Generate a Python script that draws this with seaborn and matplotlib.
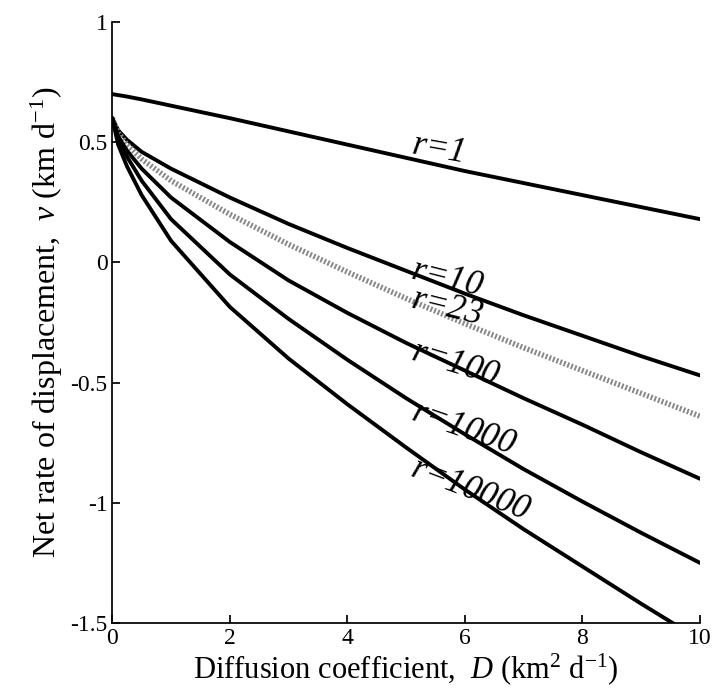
import numpy as np
import pandas as pd
import matplotlib
matplotlib.use("Agg")
import matplotlib.pyplot as plt
import seaborn as sns

sns.set_theme(style="ticks")
plt.rcParams['font.family'] = ['Liberation Serif', 'DejaVu Serif']
plt.rcParams['mathtext.fontset'] = 'custom'
plt.rcParams['mathtext.it'] = 'Liberation Serif:italic'
plt.rcParams['mathtext.rm'] = 'Liberation Serif'

# values
D = [0, 0.1, 0.25, 0.5, 1, 2, 3, 4, 5, 6, 7, 8, 9, 10]
v_r1 = [0.70, 0.696, 0.690, 0.678, 0.652, 0.60, 0.545, 0.49, 0.435, 0.38, 0.33, 0.28, 0.23, 0.18]
v_r10 = [0.60, 0.55, 0.51, 0.46, 0.39, 0.27, 0.16, 0.06, -0.035, -0.13, -0.22, -0.305, -0.39, -0.47]
v_r23 = [0.60, 0.54, 0.49, 0.43, 0.34, 0.20, 0.075, -0.04, -0.15, -0.255, -0.355, -0.45, -0.545, -0.64]
v_r100 = [0.60, 0.525, 0.465, 0.39, 0.27, 0.085, -0.075, -0.21, -0.335, -0.45, -0.565, -0.675, -0.79, -0.90]
v_r1000 = [0.60, 0.51, 0.44, 0.34, 0.18, -0.05, -0.235, -0.405, -0.565, -0.715, -0.86, -0.995, -1.125, -1.25]
v_r10000 = [0.60, 0.49, 0.40, 0.28, 0.09, -0.185, -0.40, -0.59, -0.77, -0.945, -1.11, -1.265, -1.42, -1.57]

labels = ['1', '10', '23', '100', '1000', '10000']
label_y = [0.49, -0.03, -0.15, -0.37, -0.62, -0.85]
label_rot = [-10, -14, -14, -17, -19, -21]
series = [v_r1, v_r10, v_r23, v_r100, v_r1000, v_r10000]

fig = plt.figure(figsize=(7.15, 6.88), dpi=100)
ax = fig.add_axes([0.157, 0.0945, 0.822, 0.8735])

for lab, vals in zip(labels, series):
    df = pd.DataFrame({'D': D, 'v': vals})
    if lab == '23':
        sns.lineplot(data=df, x='D', y='v', ax=ax, color='#888888', lw=4,
                     linestyle=(0, (0.35, 0.35)))
    else:
        sns.lineplot(data=df, x='D', y='v', ax=ax, color='black', lw=2.8)

for lab, ly, rot in zip(labels, label_y, label_rot):
    ax.text(5.1, ly, r'$r$=' + lab, fontsize=25, style='italic', color='black',
            rotation=rot, ha='left', va='center', rotation_mode='anchor')

ax.set_xlim(0, 10)
ax.set_ylim(-1.5, 1)
ax.set_xticks([0, 2, 4, 6, 8, 10])
ax.set_yticks([-1.5, -1, -0.5, 0, 0.5, 1])
ax.set_yticklabels(['-1.5', '-1', '-0.5', '0', '0.5', '1'])
ax.tick_params(direction='in', labelsize=17, colors='black')
ax.set_xlabel(r'Diffusion coefficient,  $D$ (km$^2$ d$^{-1}$)', fontsize=22,
              color='black', labelpad=2)
ax.set_ylabel(r'Net rate of displacement,  $v$ (km d$^{-1}$)', fontsize=23, color='black')
sns.despine(ax=ax)
for s in ax.spines.values():
    s.set_color('black')

fig.savefig('out.png', dpi=100, facecolor='white')
